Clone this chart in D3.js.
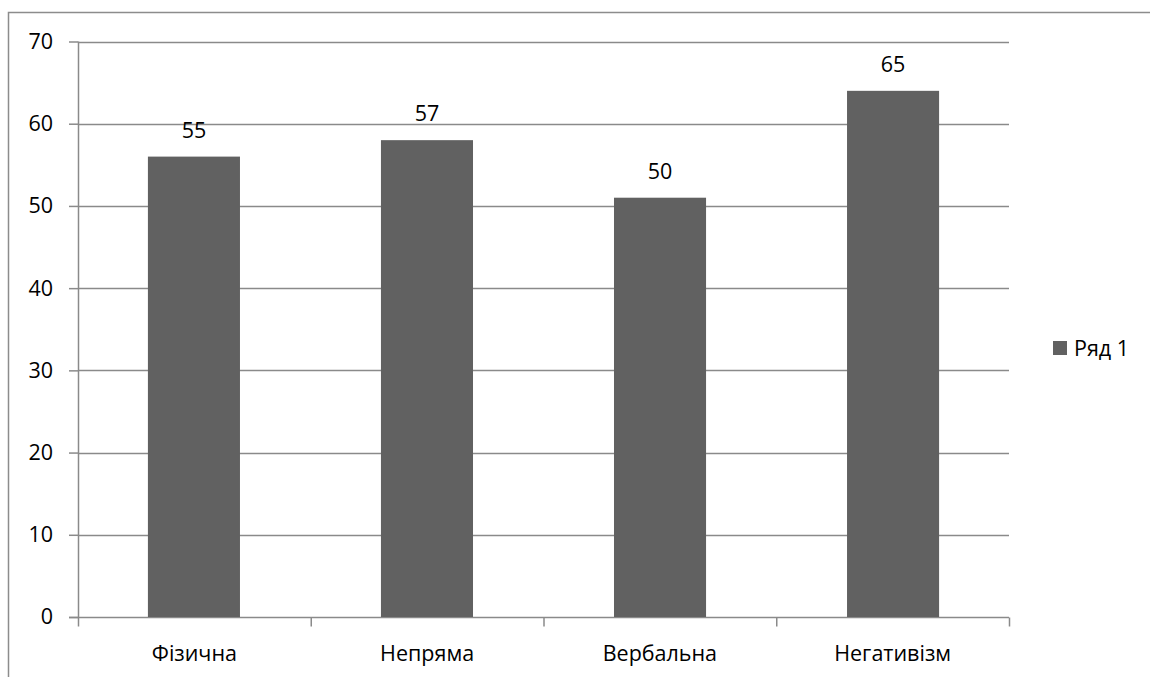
<!DOCTYPE html>
<html>
<head>
<meta charset="utf-8">
<script src="https://cdn.jsdelivr.net/npm/d3@7"></script>
<style>
html,body{margin:0;padding:0;background:#fff;overflow:hidden;}
svg{display:block;}
text{font-family:"Open Sans",sans-serif;fill:#000;}
</style>
</head>
<body>
<div id="svgContainer"></div>
<script>
// chart data
var categories = ["Фізична","Непряма","Вербальна","Негативізм"];
var values = [56, 58, 51, 64];          // bar heights as drawn
var valueLabels = ["55","57","50","65"]; // labels as printed above bars
var yTicks = [0,10,20,30,40,50,60,70];
var seriesName = "Ряд 1";

var svgWidth = 1150, svgHeight = 677;
var margin = {top:41.5, left:78, right:141, bottom:60};
var barColor = "#616161", gridColor = "#8a8a8a";
var fs = 21.5;

var svg = d3.select("#svgContainer").append("svg")
    .attr("width",svgWidth)
    .attr("height",svgHeight);

// outer chart border (runs off page to the right and bottom)
svg.append("path")
    .attr("d","M8.5,"+svgHeight+"V12.5H"+svgWidth)
    .attr("fill","none")
    .attr("stroke","#8c8c8c")
    .attr("stroke-width",1.5);

var y = d3.scaleLinear().domain([0,70]).range([617, margin.top]);
var x = d3.scaleBand().domain(categories).range([margin.left, 1009]).paddingInner(0.605).paddingOuter(0.3);
var xb = d3.scaleBand().domain(categories).range([margin.left, 1009]);

// grid lines
svg.append("g").selectAll("line")
    .data(yTicks.filter(function(d){return d>0;}))
    .enter().append("line")
    .attr("x1",margin.left).attr("x2",1009)
    .attr("y1",function(d){return Math.round(y(d))+0.5;})
    .attr("y2",function(d){return Math.round(y(d))+0.5;})
    .attr("stroke",gridColor).attr("stroke-width",1.5);

// y axis
var yaxis = svg.append("g")
    .attr("transform","translate("+margin.left+",0)")
    .call(d3.axisLeft(y).tickValues(yTicks).tickSize(9).tickPadding(16));
yaxis.select(".domain").attr("stroke",gridColor).attr("stroke-width",1.5).attr("d","M0.5,"+y(70)+"V"+y(0));
yaxis.selectAll(".tick line").attr("stroke",gridColor).attr("stroke-width",1.5);
yaxis.selectAll("text").attr("font-size",fs).attr("font-family","Open Sans");

// x axis
var xaxisG = svg.append("g").attr("transform","translate(0,"+(Math.round(y(0))+0.5)+")");
xaxisG.append("line").attr("x1",margin.left-9).attr("x2",1009)
    .attr("stroke",gridColor).attr("stroke-width",1.5);
var edges = categories.map(function(c){return xb(c);}).concat([1009]);
xaxisG.selectAll(".xt").data(edges).enter().append("line")
    .attr("class","xt")
    .attr("x1",function(d){return d+0.5;}).attr("x2",function(d){return d+0.5;})
    .attr("y1",0).attr("y2",9)
    .attr("stroke",gridColor).attr("stroke-width",1.5);
xaxisG.selectAll("text").data(categories).enter().append("text")
    .attr("x",function(d){return xb(d)+xb.bandwidth()/2;})
    .attr("y",43)
    .attr("text-anchor","middle")
    .attr("font-size",fs)
    .text(function(d){return d;});

// bars
svg.append("g").selectAll("rect")
    .data(values)
    .enter().append("rect")
    .attr("x",function(d,i){return x(categories[i]);})
    .attr("y",function(d){return y(d);})
    .attr("width",x.bandwidth())
    .attr("height",function(d){return y(0)-y(d);})
    .attr("fill",barColor);

// value labels
svg.append("g").selectAll("text")
    .data(values)
    .enter().append("text")
    .attr("x",function(d,i){return x(categories[i])+x.bandwidth()/2;})
    .attr("y",function(d){return y(d)-19;})
    .attr("text-anchor","middle")
    .attr("font-size",fs)
    .text(function(d,i){return valueLabels[i];});

// legend
var legend = svg.append("g").attr("transform","translate(1053,341)");
legend.append("rect").attr("width",14).attr("height",14).attr("fill",barColor);
legend.append("text").attr("x",21).attr("y",14.5).attr("font-size",fs).text(seriesName);
</script>
</body>
</html>
